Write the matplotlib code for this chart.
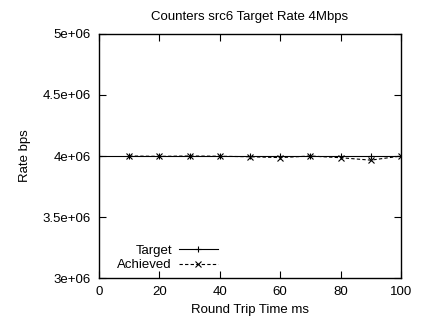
import matplotlib
matplotlib.use("Agg")
import matplotlib.pyplot as plt
from matplotlib.ticker import FuncFormatter

plt.rcParams["font.family"] = ["Liberation Sans", "DejaVu Sans"]

rtt = [10, 20, 30, 40, 50, 60, 70, 80, 90, 100]
target = [4.0e6, 4.0e6, 4.0e6, 4.0e6, 4.0e6, 4.0e6, 4.0e6, 4.0e6, 4.0e6, 4.0e6]
achieved = [4.0e6, 3.997e6, 4.0e6, 3.998e6, 3.994e6, 3.987e6, 4.0e6, 3.986e6, 3.966e6, 4.0e6]

fig = plt.figure(figsize=(4.23, 3.23), dpi=100)
ax = fig.add_axes([0.234, 0.139, 0.714, 0.756])

ax.plot([0] + rtt, [4.0e6] + target, color="black", lw=0.8, marker="+", ms=5,
        mew=0.8, label="Target")
ax.plot(rtt, achieved, color="black", lw=0.8, ls=(0, (3, 2)), marker="x", ms=4.2,
        mew=0.8, label="Achieved")

ax.set_xlim(0, 100)
ax.set_ylim(3e6, 5e6)
ax.set_xticks([0, 20, 40, 60, 80, 100])
ax.set_yticks([3e6, 3.5e6, 4e6, 4.5e6, 5e6])
ax.yaxis.set_major_formatter(FuncFormatter(lambda v, p: f"{v:g}"))
ax.tick_params(direction="in", top=True, right=True, labelsize=9.5, length=5,
               width=0.8, pad=6)
for s in ax.spines.values():
    s.set_linewidth(1.0)

ax.set_xlabel("Round Trip Time ms", fontsize=9.5, labelpad=4)
ax.set_ylabel("Rate bps", fontsize=9.5, labelpad=8)
ax.set_title("Counters src6 Target Rate 4Mbps", fontsize=9.5, pad=10)

ax.legend(loc="lower left", frameon=False, markerfirst=False, fontsize=9.5,
          handlelength=3, borderpad=0.2, labelspacing=0.15, handletextpad=0.5,
          bbox_to_anchor=(0.03, -0.01))

fig.savefig("out.png", dpi=100)
